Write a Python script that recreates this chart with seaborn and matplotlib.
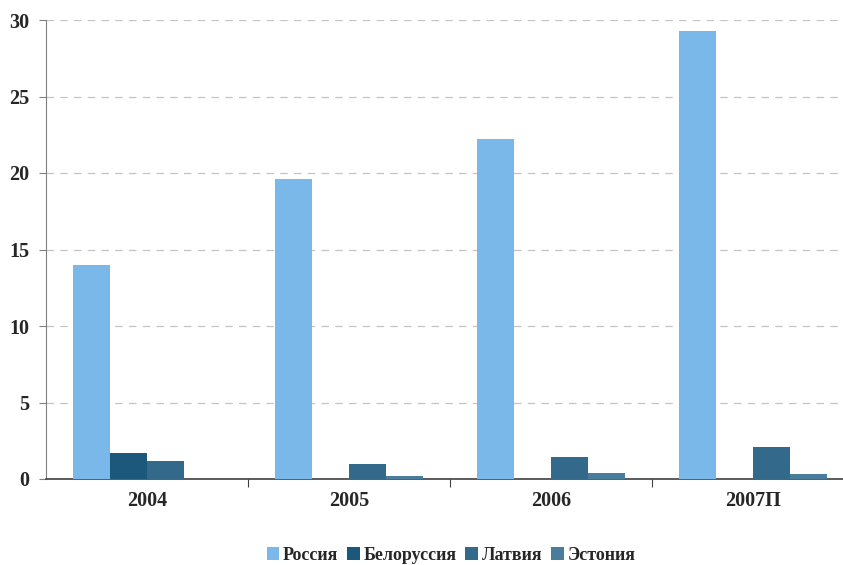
import pandas as pd
import numpy as np
import matplotlib
matplotlib.use('Agg')
import matplotlib.pyplot as plt
import seaborn as sns

# --- Data ---
years = ['2004', '2005', '2006', '2007П']
countries = ['Россия', 'Белоруссия', 'Латвия', 'Эстония']
russia = [14.0, 19.6, 22.2, 29.3]
belarus = [1.7, np.nan, np.nan, np.nan]
latvia = [1.2, 1.0, 1.45, 2.1]
estonia = [np.nan, 0.2, 0.4, 0.35]
colors = ['#79b8e8', '#1b587c', '#336a8c', '#4a7c9c']

df = pd.DataFrame({'Год': years, 'Россия': russia, 'Белоруссия': belarus,
                   'Латвия': latvia, 'Эстония': estonia})
df = df.melt(id_vars='Год', var_name='Страна', value_name='Значение').dropna()

# --- Plot ---
sns.set_style("white")
plt.rcParams['font.family'] = ['Liberation Serif', 'DejaVu Serif']
plt.rcParams['font.weight'] = 'bold'

fig = plt.figure(figsize=(8.43, 5.65), dpi=100)
ax = fig.add_axes([46 / 843, 86 / 565, 808 / 843, 459 / 565])

sns.barplot(data=df, x='Год', y='Значение', hue='Страна', order=years,
            hue_order=countries, palette=colors, width=0.733, saturation=1,
            errorbar=None, ax=ax, zorder=3, linewidth=0, edgecolor='none')

ax.set_xlim(-0.5, 3.5)
ax.set_ylim(0, 30)
ax.set_yticks(range(0, 31, 5))
ax.set_xlabel('')
ax.set_ylabel('')

ax.yaxis.grid(True, linestyle=(0, (6, 5)), color='#c4c4c4', linewidth=0.9, zorder=0)
ax.xaxis.grid(False)

for s in ['top', 'right']:
    ax.spines[s].set_visible(False)
ax.spines['left'].set_color('#808080')
ax.spines['bottom'].set_color('#404040')
ax.spines['bottom'].set_linewidth(1.2)

# x ticks at group boundaries, labels in centres
ax.set_xticks([0.5, 1.5, 2.5, 3.5], minor=False)
ax.set_xticklabels([])
ax.set_xticks(range(len(years)), minor=True)
ax.set_xticklabels(years, minor=True, fontsize=14.5, fontweight='bold')
ax.tick_params(axis='x', which='major', direction='out', length=6, color='#404040', bottom=True)
ax.tick_params(axis='x', which='minor', length=0, pad=9)
ax.tick_params(axis='y', direction='out', length=5, color='#808080', left=True,
               labelsize=14.5, pad=7)
for lbl in ax.get_yticklabels():
    lbl.set_fontweight('bold')

ax.legend(loc='center', bbox_to_anchor=(405 / 808, -(555 - 479) / 459), ncol=4,
          frameon=False, prop={'size': 13, 'weight': 'bold'},
          handlelength=0.7, handleheight=0.7, handletextpad=0.2, columnspacing=0.5)

fig.savefig('out.png', dpi=100)
